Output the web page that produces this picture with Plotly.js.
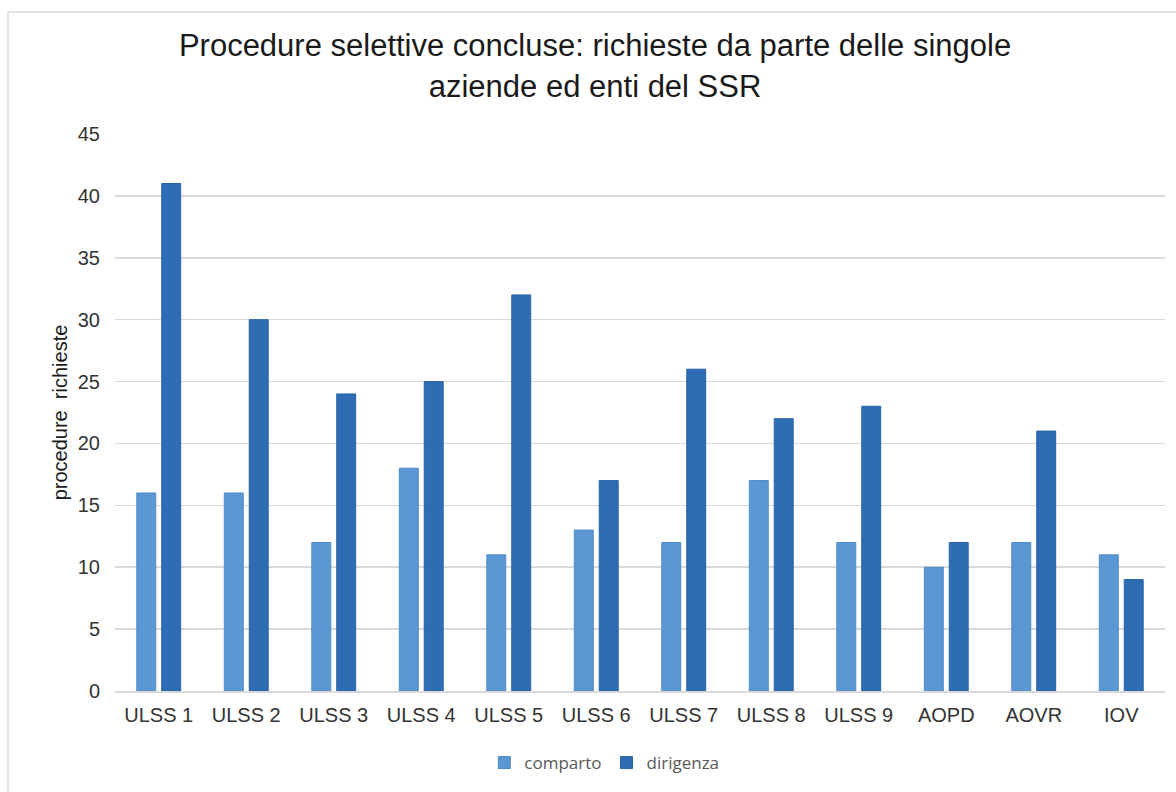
<!DOCTYPE html>
<html><head><meta charset="utf-8">
<script src="https://cdn.plot.ly/plotly-3.0.1.min.js"></script>
<style>html,body{margin:0;padding:0;background:#fff}#chart{width:1176px;height:792px}</style>
</head><body><div id="chart"></div>
<script>
const categories = ["ULSS 1","ULSS 2","ULSS 3","ULSS 4","ULSS 5","ULSS 6","ULSS 7","ULSS 8","ULSS 9","AOPD","AOVR","IOV"];
const comparto = [16,16,12,18,11,13,12,17,12,10,12,11];
const dirigenza = [41,30,24,25,32,17,26,22,23,12,21,9];
const yTicks = [0,5,10,15,20,25,30,35,40,45];

const traces = [
  {type:'bar', name:'comparto', x:categories, y:comparto, marker:{color:'#5b97d3', line:{color:'#4f8bc8', width:1}}},
  {type:'bar', name:'dirigenza', x:categories, y:dirigenza, marker:{color:'#2e6db4', line:{color:'#2862a6', width:1}}}
];
const W=1176,H=792,l=115,r=11,t=134,b=101;
const pw=W-l-r, ph=H-t-b;
const layout = {
  width:W, height:H,
  margin:{l:l,r:r,t:t,b:b},
  paper_bgcolor:'#fff', plot_bgcolor:'#fff',
  font:{family:'Liberation Sans, Arial, sans-serif', color:'#404040'},
  title:{text:'Procedure selettive concluse: richieste da parte delle singole<br>aziende ed enti del SSR', x:0.506, xanchor:'center', y:0.929, yanchor:'middle', font:{size:31, color:'#1a1a1a', family:'Liberation Sans, Arial, sans-serif'}},
  barmode:'group', bargap:0.43, bargroupgap:0.24,
  xaxis:{tickvals:categories, ticktext:categories, tickfont:{size:20, color:'#333333'}, showgrid:false, showline:true, linecolor:'#d9d9d9', linewidth:1.5, ticks:'', ticklabelstandoff:5},
  yaxis:{range:[0,45], tickvals:yTicks, ticktext:yTicks.map(String), tickfont:{size:20, color:'#333333'}, gridcolor:'#d9d9d9', gridwidth:1.5, zeroline:false, showline:false, ticks:'', ticklabelstandoff:14,
    title:{text:'procedure  richieste', font:{size:20, color:'#1a1a1a'}, standoff:4}},
  legend:{orientation:'h', x:0.466, xanchor:'center', y:(H-b-763)/ph, yanchor:'middle', font:{size:17, color:'#595959', family:'Open Sans, sans-serif'}, traceorder:'normal', itemwidth:30},
  shapes:[
    {type:'line', xref:'paper', yref:'paper', x0:(8-l)/pw, x1:(W+5-l)/pw, y0:(H-b-12)/ph, y1:(H-b-12)/ph, line:{color:'#e3e3e3', width:2}},
    {type:'line', xref:'paper', yref:'paper', x0:(8-l)/pw, x1:(8-l)/pw, y0:(H-b-12)/ph, y1:(H-b-H-5)/ph, line:{color:'#e3e3e3', width:2}}
  ],
  showlegend:true
};
Plotly.newPlot('chart', traces, layout, {displayModeBar:false, staticPlot:true});
</script></body></html>
